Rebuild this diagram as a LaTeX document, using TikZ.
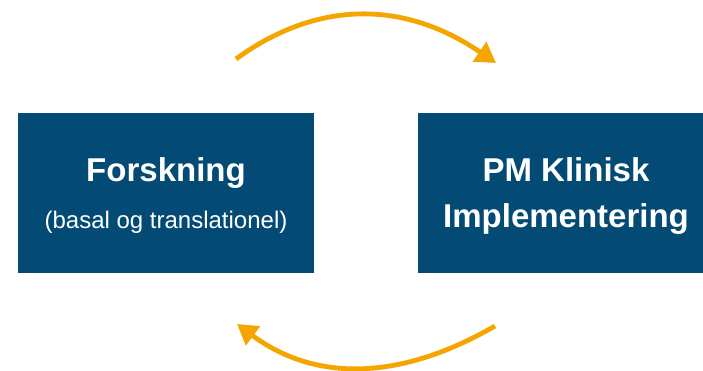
\documentclass[tikz,border=0pt]{standalone}
\usepackage{fontspec}
\setmainfont{Liberation Sans}
\usetikzlibrary{arrows.meta}
\definecolor{boxblue}{HTML}{034A75}
\definecolor{cycleorange}{HTML}{F5A500}
\tikzset{
  panel/.style={draw=none, fill=boxblue, rectangle, inner sep=0pt, anchor=north west},
  title/.style={text=white, font=\bfseries\fontsize{33}{36}\selectfont, anchor=base, inner sep=0pt},
  subtitle/.style={text=white, font=\fontsize{24}{27}\selectfont, anchor=base, inner sep=0pt},
  cyclearrow/.style={draw=cycleorange, line width=4.8pt, -{Triangle[length=20pt, width=23pt]}}
}
\begin{document}
\begin{tikzpicture}[x=1pt, y=-1pt]
  \useasboundingbox (0,0) rectangle (703,371);
  \fill[white] (0,0) rectangle (703,371);

  % the two panels
  \node[panel, minimum width=296pt, minimum height=160pt] (research) at (18,113) {};
  \node[panel, minimum width=285pt, minimum height=160pt] (clinic) at (418,113) {};

  % panel texts
  \node[title] (researchtitle) at (166,182) {Forskning};
  \node[subtitle] (researchsub) at (166,229) {(basal og translationel)};
  \node[title] (clinictitle) at (566,182) {PM Klinisk};
  \node[title] (clinicsub) at (566,228) {Implementering};

  % end points of the cycle arrows
  \coordinate (topstart) at (236,59);
  \coordinate (topend) at (496,63);
  \coordinate (botstart) at (495,326);
  \coordinate (botend) at (237,324);

  \draw[cyclearrow] (topstart) .. controls (317,0) and (404,0) .. (topend);
  \draw[cyclearrow] (botstart) .. controls (400,381) and (315,382) .. (botend);
\end{tikzpicture}
\end{document}
